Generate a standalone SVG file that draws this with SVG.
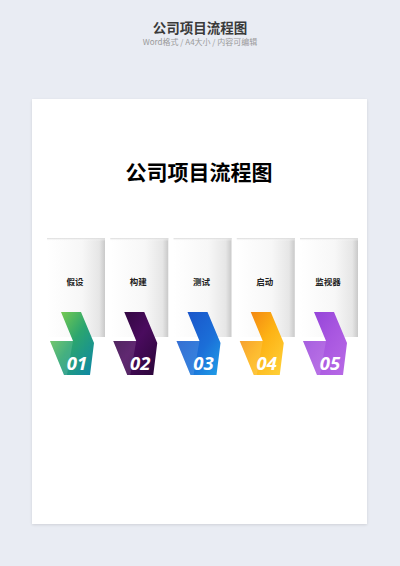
<svg xmlns="http://www.w3.org/2000/svg" width="400" height="566" viewBox="0 0 400 566">
<defs>
<style>
.cjk{font-family:"Noto Sans CJK SC","Noto Sans",sans-serif;}
.lbl{font-size:8.5px;font-weight:bold;fill:#222;text-anchor:middle;}
.num{font-family:"Open Sans","Liberation Sans",sans-serif;font-size:18.5px;font-weight:bold;font-style:italic;fill:#fff;text-anchor:middle;}
.fold{fill:#fff;opacity:0.12;}
</style>
<linearGradient id="card" x1="0" y1="0" x2="1" y2="0">
<stop offset="0" stop-color="#ffffff"/><stop offset="0.6" stop-color="#f7f7f7"/><stop offset="0.9" stop-color="#e6e6e6"/><stop offset="1" stop-color="#c9c9c9"/>
</linearGradient>
<linearGradient id="cardTop" x1="0" y1="0" x2="0" y2="1">
<stop offset="0" stop-color="#d8d8d8"/><stop offset="1" stop-color="#ffffff" stop-opacity="0"/>
</linearGradient>
<linearGradient id="g1" x1="0" y1="0" x2="1" y2="1"><stop offset="0" stop-color="#8fd647"/><stop offset="0.5" stop-color="#2ba56f"/><stop offset="1" stop-color="#0c86a8"/></linearGradient>
<linearGradient id="g2" x1="0" y1="0" x2="1" y2="1"><stop offset="0" stop-color="#2a0638"/><stop offset="0.5" stop-color="#4a0b5e"/><stop offset="1" stop-color="#2a0638"/></linearGradient>
<linearGradient id="g3" x1="0" y1="0" x2="1" y2="1"><stop offset="0" stop-color="#1a4fc6"/><stop offset="0.6" stop-color="#1b6fd8"/><stop offset="1" stop-color="#1fa0e8"/></linearGradient>
<linearGradient id="g4" x1="0" y1="0" x2="1" y2="1"><stop offset="0" stop-color="#f07a12"/><stop offset="0.5" stop-color="#fdb214"/><stop offset="1" stop-color="#ffd23a"/></linearGradient>
<linearGradient id="g5" x1="0" y1="0" x2="1" y2="1"><stop offset="0" stop-color="#8e3fd6"/><stop offset="0.5" stop-color="#a856e0"/><stop offset="1" stop-color="#b86ae6"/></linearGradient>
<filter id="sh" x="-5%" y="-5%" width="110%" height="110%"><feGaussianBlur in="SourceAlpha" stdDeviation="1.5"/><feOffset dx="0" dy="0.5"/><feComponentTransfer><feFuncA type="linear" slope="0.12"/></feComponentTransfer><feMerge><feMergeNode/><feMergeNode in="SourceGraphic"/></feMerge></filter>
<g id="ribbonShape"><polygon points="14,312 34,312 47,343 43,375 17,375 3,341 26,341"/></g>
</defs>
<rect width="400" height="566" fill="#e9ecf3"/>
<g id="header">
<text class="cjk" x="200" y="33" font-size="13.5" font-weight="bold" fill="#3a3a3a" text-anchor="middle">公司项目流程图</text>
<text class="cjk" x="200" y="45" font-size="8" fill="#9a9a9a" text-anchor="middle">Word格式 / A4大小 / 内容可编辑</text>
</g>
<rect x="32" y="99" width="335" height="425" fill="#ffffff" filter="url(#sh)"/>
<text class="cjk" x="199" y="180" font-size="21" font-weight="bold" fill="#000" text-anchor="middle">公司项目流程图</text>
<g id="connectors"/>
<g id="step1" transform="translate(47,0)">
<rect x="0" y="238" width="58" height="99" fill="url(#card)"/><rect x="0" y="238" width="58" height="3" fill="url(#cardTop)"/>
<text class="cjk lbl" x="28" y="285">假设</text>
<use href="#ribbonShape" fill="url(#g1)"/><polygon class="fold" points="3,341 26,341 20,375 17,375"/>
<text class="num" x="30" y="370">01</text>
</g>
<g id="step2" transform="translate(110.25,0)">
<rect x="0" y="238" width="58" height="99" fill="url(#card)"/><rect x="0" y="238" width="58" height="3" fill="url(#cardTop)"/>
<text class="cjk lbl" x="28" y="285">构建</text>
<use href="#ribbonShape" fill="url(#g2)"/><polygon class="fold" points="3,341 26,341 20,375 17,375"/>
<text class="num" x="30" y="370">02</text>
</g>
<g id="step3" transform="translate(173.5,0)">
<rect x="0" y="238" width="58" height="99" fill="url(#card)"/><rect x="0" y="238" width="58" height="3" fill="url(#cardTop)"/>
<text class="cjk lbl" x="28" y="285">测试</text>
<use href="#ribbonShape" fill="url(#g3)"/><polygon class="fold" points="3,341 26,341 20,375 17,375"/>
<text class="num" x="30" y="370">03</text>
</g>
<g id="step4" transform="translate(236.75,0)">
<rect x="0" y="238" width="58" height="99" fill="url(#card)"/><rect x="0" y="238" width="58" height="3" fill="url(#cardTop)"/>
<text class="cjk lbl" x="28" y="285">启动</text>
<use href="#ribbonShape" fill="url(#g4)"/><polygon class="fold" points="3,341 26,341 20,375 17,375"/>
<text class="num" x="30" y="370">04</text>
</g>
<g id="step5" transform="translate(300,0)">
<rect x="0" y="238" width="58" height="99" fill="url(#card)"/><rect x="0" y="238" width="58" height="3" fill="url(#cardTop)"/>
<text class="cjk lbl" x="28" y="285">监视器</text>
<use href="#ribbonShape" fill="url(#g5)"/><polygon class="fold" points="3,341 26,341 20,375 17,375"/>
<text class="num" x="30" y="370">05</text>
</g>
</svg>
